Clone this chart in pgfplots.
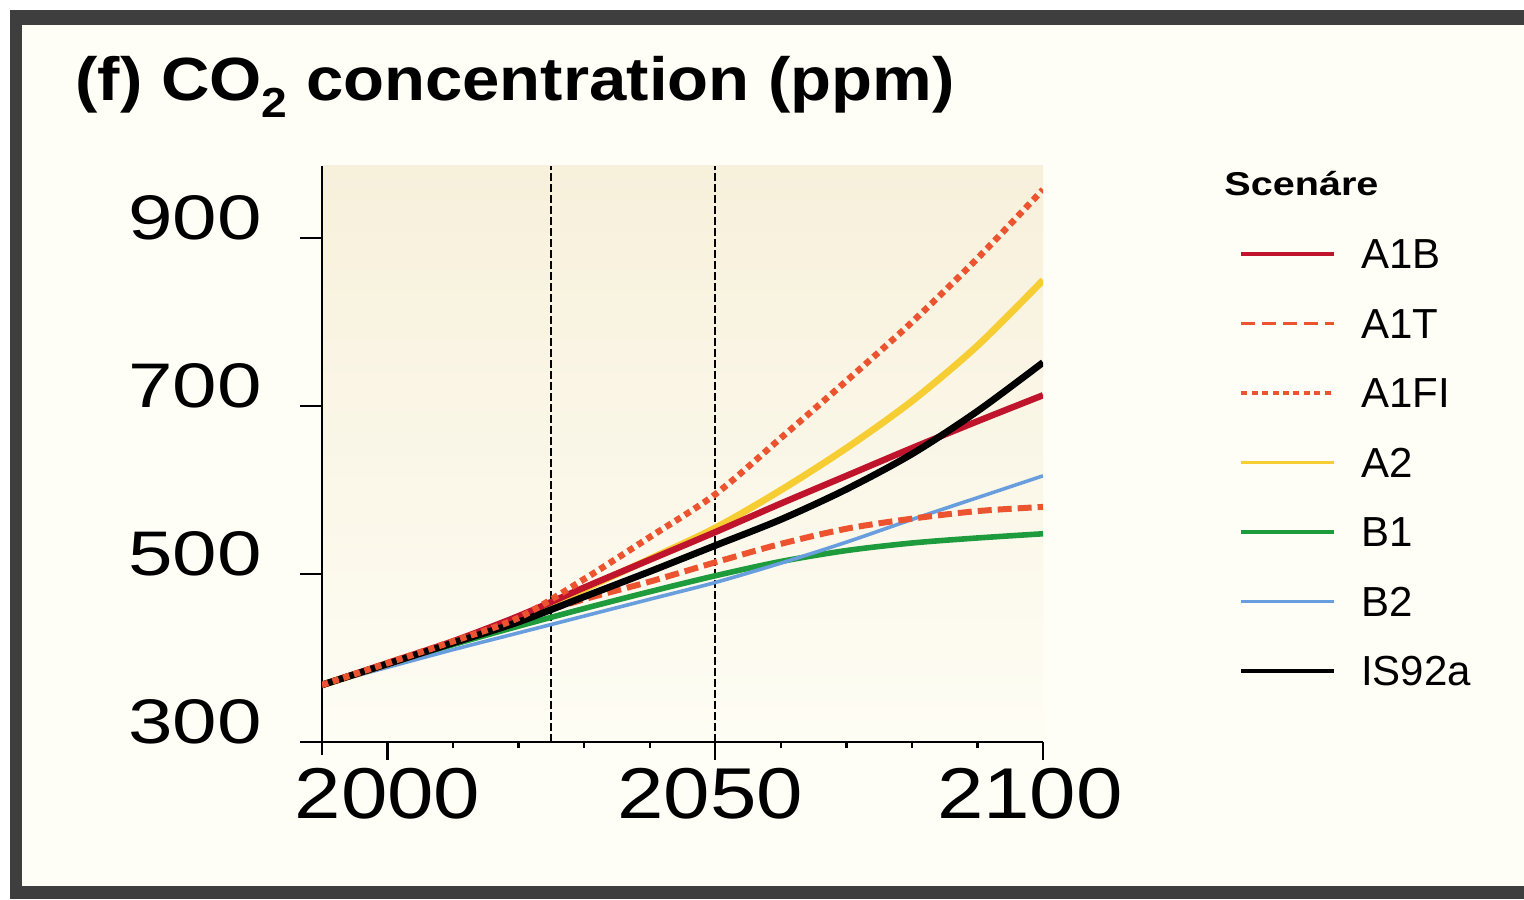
\documentclass[border=0pt]{standalone}
\usepackage{fontspec}
\setmainfont{Liberation Sans}
\newfontfamily\ylabfont[FakeStretch=1.27]{Liberation Sans}
\newfontfamily\xlabfont[FakeStretch=1.16]{Liberation Sans}
\newfontfamily\titlefont[FakeStretch=1.1]{Liberation Sans}
\newfontfamily\legtitlefont[FakeStretch=1.2]{Liberation Sans}
\usepackage{pgfplots}
\pgfplotsset{compat=1.18}
\definecolor{cA1B}{RGB}{192,20,45}
\definecolor{cA1T}{RGB}{236,84,48}
\definecolor{cA2}{RGB}{246,206,52}
\definecolor{cB1}{RGB}{30,155,60}
\definecolor{cB2}{RGB}{105,158,222}
\definecolor{framegray}{RGB}{62,62,62}
\definecolor{pagebg}{RGB}{254,253,246}
\definecolor{bgtop}{RGB}{247,240,219}
\definecolor{bgbot}{RGB}{254,253,244}
\begin{document}
\begin{tikzpicture}
\useasboundingbox (0,0) rectangle (762pt,-449.5pt);
\fill[white] (0,0) rectangle (762pt,-449.5pt);
\fill[framegray] (5pt,-5pt) rectangle (762pt,-449.5pt);
\fill[pagebg] (11pt,-12.5pt) rectangle (762pt,-443pt);
\node[anchor=base west, inner sep=0pt, font=\titlefont\bfseries\fontsize{30.5}{30.5}\selectfont] at (37.5pt,-50.5pt) {(f) CO\raisebox{-8.5pt}{\fontsize{21}{21}\selectfont 2} concentration (ppm)};
\node[anchor=base west, inner sep=0pt, font=\legtitlefont\bfseries\fontsize{16.5}{16.5}\selectfont] at (612pt,-97.5pt) {Scenáre};
\begin{axis}[
  at={(161pt,-371pt)}, anchor=south west,
  width=360.5pt, height=288pt, scale only axis,
  xmin=1990, xmax=2100, ymin=300, ymax=986,
  axis x line*=bottom, axis y line*=left,
  axis line style={line width=1.2pt, -},
  every tick/.style={black, line width=1.2pt},
  tick align=outside,
  xtick={2000,2050,2100}, xticklabels={2000,2050\rule{5pt}{0pt},2100\rule{13pt}{0pt}},
  minor xtick={2010,2020,2030,2040,2060,2070,2080,2090},
  major tick length=9pt, minor tick length=3pt,
  extra x ticks={1990}, extra x tick labels={},
  extra x tick style={major tick length=6.5pt},
  ytick=\empty,
  extra y ticks={300,500,700,900},
  extra y tick labels={300,500,700,900},
  extra y tick style={major tick length=11pt},
  yticklabel style={font=\ylabfont\fontsize{31.5}{31.5}\selectfont, anchor=east, inner sep=0pt, xshift=-19pt, yshift=10pt},
  xticklabel style={font=\xlabfont\fontsize{36}{36}\selectfont, anchor=north, inner sep=0pt, yshift=-4pt},
  axis background/.style={shade, top color=bgtop, bottom color=bgbot},
  legend image code/.code={\draw[#1] (0pt,0pt) -- (46.5pt,0pt);},
  legend cell align=left,
  legend style={at={(axis description cs:1.272,0.8740)}, anchor=north west, draw=none, fill=none, inner sep=0pt,
    row sep=19.75pt, font=\fontsize{21}{21}\selectfont,
    nodes={inner sep=0pt, text height=15pt, text depth=0pt},
    /tikz/every odd column/.append style={column sep=12.5pt}},
]
\addlegendimage{cA1B, line width=1.8pt}\addlegendentry{A1B}
\addlegendimage{cA1T, line width=1.8pt, dash pattern=on 7pt off 3.5pt}\addlegendentry{A1T}
\addlegendimage{cA1T, line width=1.8pt, dash pattern=on 3pt off 2.2pt}\addlegendentry{A1FI}
\addlegendimage{cA2, line width=1.8pt}\addlegendentry{A2}
\addlegendimage{cB1, line width=1.8pt}\addlegendentry{B1}
\addlegendimage{cB2, line width=1.8pt}\addlegendentry{B2}
\addlegendimage{black, line width=1.8pt}\addlegendentry{IS92a}

\addplot[forget plot, black, line width=1pt, dash pattern=on 4pt off 1.5pt] coordinates {(2025,300) (2025,986)};
\addplot[forget plot, black, line width=1pt, dash pattern=on 4pt off 1.5pt] coordinates {(2050,300) (2050,986)};

% B1
\addplot[forget plot, cB1, line width=2.8pt, smooth] coordinates {(1990,368)(2000,392)(2010,416)(2020,438)(2030,459)(2040,479)(2050,498)(2060,515)(2070,528)(2080,537)(2090,543)(2100,548)};
% B2
\addplot[forget plot, cB2, line width=1.8pt, smooth] coordinates {(1990,368)(2000,389)(2010,410)(2020,430)(2030,450)(2040,470)(2050,490)(2060,513)(2070,538)(2080,565)(2090,591)(2100,617)};
% A1T
\addplot[forget plot, cA1T, line width=3pt, dash pattern=on 7pt off 3pt, smooth] coordinates {(1990,368)(2000,393)(2010,419)(2020,446)(2030,470)(2040,491)(2050,514)(2060,536)(2070,554)(2080,566)(2090,575)(2100,580)};
% A2
\addplot[forget plot, cA2, line width=3.4pt, smooth] coordinates {(1990,368)(2000,393)(2010,419)(2020,447)(2030,482)(2040,518)(2050,555)(2060,600)(2070,650)(2080,706)(2090,772)(2100,850)};
% A1B
\addplot[forget plot, cA1B, line width=3.2pt, smooth] coordinates {(1990,368)(2000,394)(2010,420)(2020,450)(2030,484)(2040,517)(2050,550)(2060,584)(2070,617)(2080,650)(2090,682)(2100,713)};
% IS92a
\addplot[forget plot, black, line width=3.4pt, smooth] coordinates {(1990,368)(2000,393)(2010,418)(2020,443)(2030,473)(2040,503)(2050,534)(2060,565)(2070,601)(2080,643)(2090,694)(2100,752)};
% A1FI
\addplot[forget plot, cA1T, line width=3.2pt, dash pattern=on 3.2pt off 2.4pt, smooth] coordinates {(1990,368)(2000,394)(2010,420)(2020,448)(2030,494)(2040,544)(2050,595)(2060,662)(2070,730)(2080,800)(2090,876)(2100,958)};
\end{axis}
\end{tikzpicture}
\end{document}
